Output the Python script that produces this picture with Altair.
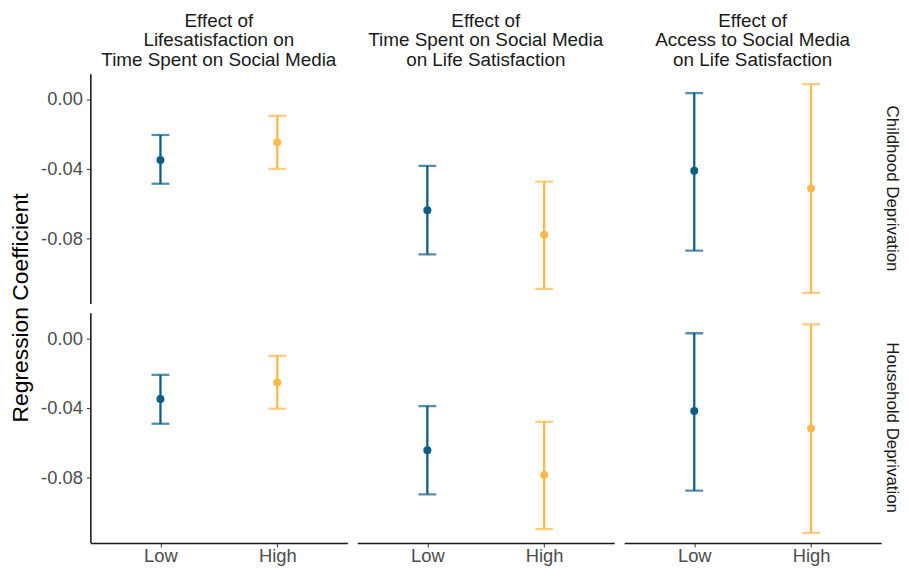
import altair as alt
import pandas as pd

effects = [
    "Effect of|Lifesatisfaction on|Time Spent on Social Media",
    "Effect of|Time Spent on Social Media|on Life Satisfaction",
    "Effect of|Access to Social Media|on Life Satisfaction",
]
deprivations = ["Childhood Deprivation", "Household Deprivation"]
levels = ["Low", "High"]

# estimates [deprivation][effect][level]
estimate = [
    [[-0.0349, -0.0248], [-0.0637, -0.0777], [-0.0411, -0.0513]],
    [[-0.0349, -0.0254], [-0.0642, -0.0783], [-0.0417, -0.0518]],
]
lower = [
    [[-0.0485, -0.0400], [-0.0890, -0.1087], [-0.0868, -0.1110]],
    [[-0.0490, -0.0404], [-0.0894, -0.1093], [-0.0873, -0.1115]],
]
upper = [
    [[-0.0206, -0.0096], [-0.0383, -0.0473], [0.0034, 0.0085]],
    [[-0.0210, -0.0101], [-0.0389, -0.0479], [0.0028, 0.0079]],
]

rows = []
for i, d in enumerate(deprivations):
    for j, e in enumerate(effects):
        for k, l in enumerate(levels):
            rows.append({
                "deprivation": d, "effect": e, "level": l,
                "estimate": estimate[i][j][k],
                "lower": lower[i][j][k], "upper": upper[i][j][k],
            })
df = pd.DataFrame(rows)

FONT = "Liberation Sans"
color = alt.Color("level:N", scale=alt.Scale(domain=levels, range=["#0d5e85", "#fdb84a"]), legend=None)
x = alt.X("level:N", sort=levels, title=None,
          scale=alt.Scale(type="point", padding=0.6),
          axis=alt.Axis(labelAngle=0, labelFontSize=18.5, labelColor="#4d4d4d",
                        labelFont=FONT, tickColor="#333333", tickSize=4,
                        domainColor="#1a1a1a", domainWidth=1.6, labelPadding=0))
yscale = alt.Scale(domain=[-0.117, 0.0145], nice=False, zero=False)
yaxis = alt.Axis(values=[0, -0.04, -0.08],
                 labelExpr="replace(format(datum.value, '.2f'), '\u2212', '-')",
                 labelFontSize=18.5, labelColor="#4d4d4d", labelFont=FONT,
                 tickColor="#333333", tickSize=4, domainColor="#1a1a1a", domainWidth=1.6,
                 grid=False, labelPadding=4)


def Y(field):
    return alt.Y(field, scale=yscale, title=None, axis=yaxis)


base = alt.Chart(df)
rule = base.mark_rule(strokeWidth=2.3).encode(x=x, y=Y("lower:Q"), y2="upper:Q", color=color)
caps_lo = base.mark_tick(size=18, thickness=2.3).encode(x=x, y=Y("lower:Q"), color=color)
caps_hi = base.mark_tick(size=18, thickness=2.3).encode(x=x, y=Y("upper:Q"), color=color)
pts = base.mark_point(filled=True, size=65, opacity=1).encode(x=x, y=Y("estimate:Q"), color=color)

layer = alt.layer(rule, caps_lo, caps_hi, pts).properties(width=259, height=231.5)

chart = layer.facet(
    column=alt.Column("effect:N", sort=effects, title=None,
                      header=alt.Header(labelExpr="split(datum.value, '|')", labelFontSize=19,
                                        labelFont=FONT, labelColor="#1a1a1a",
                                        labelPadding=4, labelLineHeight=19.5)),
    row=alt.Row("deprivation:N", sort=deprivations, title="Regression Coefficient",
                header=alt.Header(labelAngle=90, labelOrient="right", labelFontSize=17,
                                  labelFont=FONT, labelColor="#1a1a1a",
                                  labelPadding=2, titleOrient="left", titleFontSize=23,
                                  titleFont=FONT, titleFontWeight="normal",
                                  titleColor="#000000", titlePadding=-3)),
    spacing={"row": 9, "column": 10},
).configure_view(stroke=None).properties(padding={"left": 1, "top": 2, "right": 0, "bottom": 0})

chart.save("out.html", embed_options={"renderer": "svg", "actions": False})
